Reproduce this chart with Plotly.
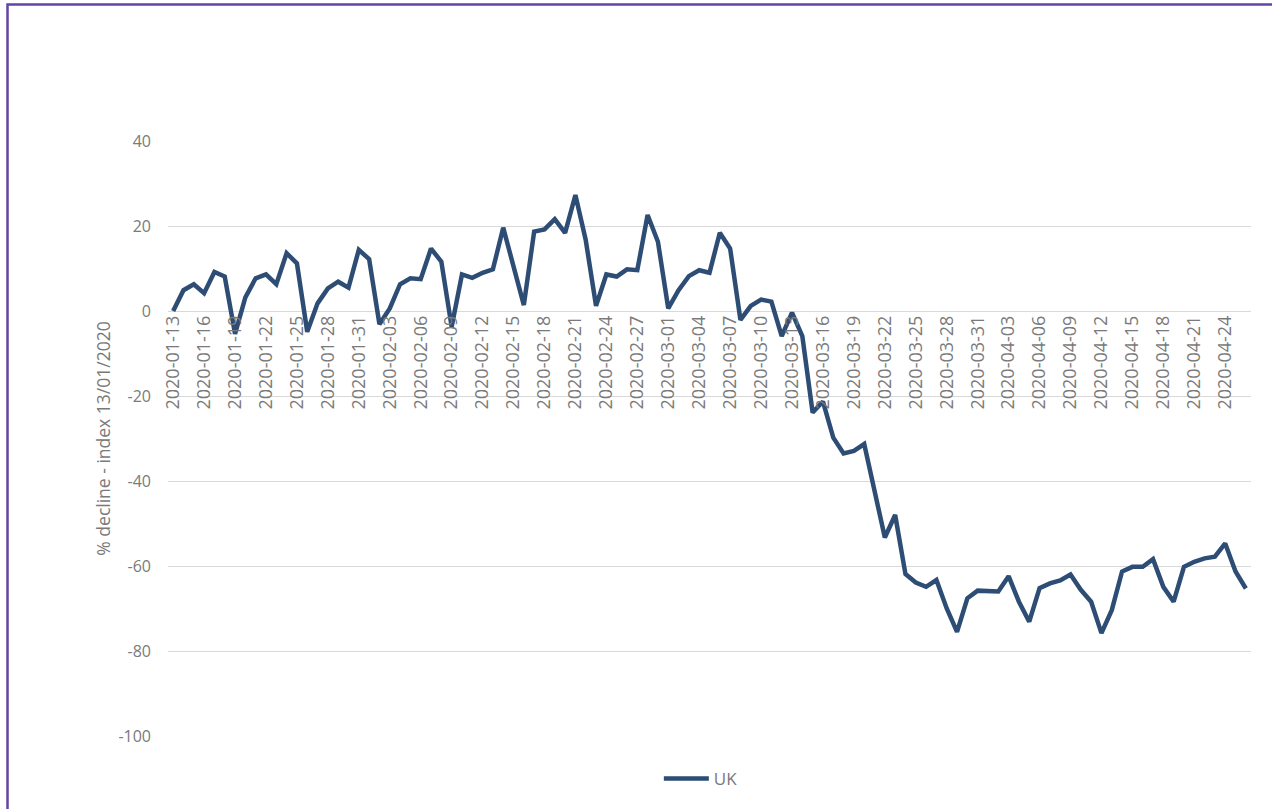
"""UK % decline line chart, indexed to 13/01/2020."""

import pandas as pd
import plotly.graph_objects as go

# Daily categories 2020-01-13 .. 2020-04-26
dates = [d.strftime('%Y-%m-%d') for d in pd.date_range('2020-01-13', '2020-04-26', freq='D')]

jan = [0, 4.9, 6.3, 4.2, 9.2, 8.1, -5.4, 3.2, 7.7, 8.6, 6.3, 13.6, 11.2, -4.9,
       1.8, 5.3, 6.9, 5.5, 14.4]
feb = [12.2, -3.1, 0.6, 6.3, 7.7, 7.5, 14.7, 11.6, -3.7, 8.6, 7.8, 9.0, 9.8,
       19.6, 10.0, 1.4, 18.7, 19.2, 21.6, 18.4, 27.3, 16.7, 1.2, 8.6, 8.1, 9.8,
       9.6, 22.6, 16.3]
mar = [0.6, 4.9, 8.2, 9.6, 9.0, 18.4, 14.7, -2.1, 1.2, 2.7, 2.2, -5.9, -0.4,
       -5.9, -23.9, -21.3, -29.8, -33.5, -32.9, -31.3, -42.9, -53.3, -48.0,
       -61.9, -63.9, -64.9, -63.3, -70.0, -75.5, -67.6, -65.8]
apr = [-66.0, -66.0, -62.4, -68.4, -73.1, -65.2, -64.1, -63.4, -62.0, -65.6,
       -68.4, -75.8, -70.4, -61.3, -60.2, -60.2, -58.4, -64.9, -68.4, -60.2,
       -59.0, -58.2, -57.8, -54.7, -61.3, -65.3]
uk = jan + feb + mar + apr

# every third day gets a label
tick_dates = dates[::3]
y_ticks = [-100, -80, -60, -40, -20, 0, 20, 40]
y_labels = [str(v) for v in y_ticks]  # plain hyphen, like Excel

y_min, y_max = -100, 40
font = 'Open Sans, Liberation Sans, sans-serif'
grey = '#7a7a7a'

fig = go.Figure(go.Scatter(
    x=dates,
    y=uk,
    mode='lines',
    name='UK',
    line=dict(color='#2d4d75', width=4.5),
))

fig.update_layout(
    width=1272,
    height=809,
    autosize=False,
    paper_bgcolor='white',
    plot_bgcolor='white',
    margin=dict(l=168, r=21, t=141, b=73),
    font=dict(family=font, color=grey, size=16),
    showlegend=True,
    legend=dict(
        orientation='h',
        x=0.492,
        xanchor='center',
        y=-0.072,
        yanchor='middle',
        font=dict(size=17, color=grey),
        itemwidth=45,
    ),
    xaxis=dict(
        type='category',
        range=[-0.5, len(dates) - 0.5],
        tickmode='array',
        tickvals=tick_dates,
        ticktext=tick_dates,
        tickangle=-90,
        tickfont=dict(size=18, color=grey),
        showgrid=False,
        showline=False,
        zeroline=False,
        ticks='',
        anchor='free',
        position=(0 - y_min) / (y_max - y_min),
        automargin=False,
    ),
    yaxis=dict(
        range=[y_min, y_max],
        tickmode='array',
        tickvals=y_ticks,
        ticktext=y_labels,
        showgrid=True,
        gridcolor='#d9d9d9',
        gridwidth=1,
        zeroline=False,
        showline=False,
        ticks='',
        ticklabelstandoff=16,
        tickfont=dict(size=16, color=grey),
        title=dict(text='% decline - index 13/01/2020',
                   font=dict(size=17.5, color=grey), standoff=3),
        automargin=False,
    ),
    shapes=[
        # purple chart frame (top and left edges visible)
        dict(type='rect', xref='paper', yref='paper',
             x0=(7.5 - 168) / 1083, x1=1.1,
             y0=-0.2, y1=(736 - 4.5) / 595,
             line=dict(color='#6245a3', width=2.5),
             fillcolor='rgba(0,0,0,0)', layer='below'),
    ],
)

# drop the page's default body margin so the figure sits at (0, 0)
fig.write_html('out.html', config={'displayModeBar': False},
               post_script="document.body.style.margin='0';")
